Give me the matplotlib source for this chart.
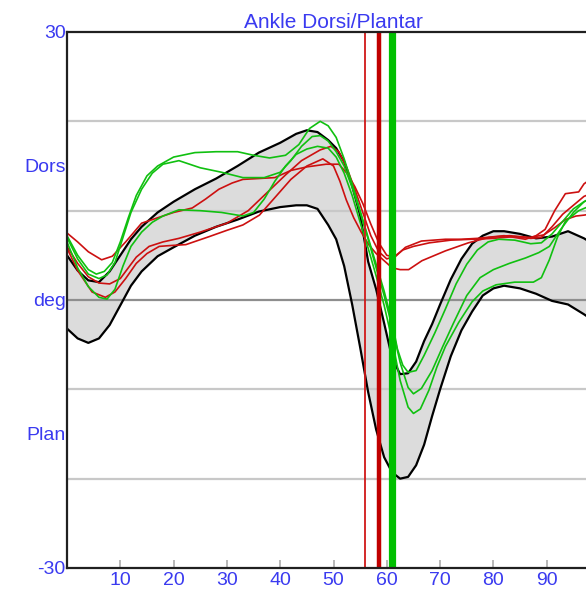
import matplotlib
matplotlib.use("Agg")
import matplotlib.pyplot as plt

# ---------------- data ----------------
band_x = [0, 2, 4, 6, 8, 10, 12, 14, 17, 20, 24, 28, 32, 36, 40, 43, 45, 47, 49, 50.5,
          52, 53.5, 55, 56.5, 58, 59.5, 61, 62.5, 64, 65.5, 67, 68.5, 70, 72, 74, 76,
          78, 80, 82, 85, 88, 91, 94, 97, 100]
band_upper = [5.0, 3.3, 2.2, 2.0, 3.2, 5.0, 6.8, 8.2, 9.8, 11.0, 12.4, 13.6, 15.0, 16.5,
              17.6, 18.6, 19.0, 18.8, 17.9, 17.0, 15.5, 12.8, 9.5, 4.3, 1.2, -2.6, -6.5,
              -8.3, -8.2, -6.9, -4.6, -2.7, -0.5, 2.3, 4.6, 6.3, 7.2, 7.7, 7.7, 7.4, 6.9,
              7.1, 7.7, 6.9, 5.8]
band_lower = [-3.2, -4.3, -4.8, -4.3, -2.8, -0.6, 1.6, 3.2, 4.9, 5.9, 7.2, 8.2, 9.0, 9.9,
              10.4, 10.6, 10.6, 10.2, 8.4, 6.8, 3.8, -0.5, -5.3, -10.3, -14.5, -17.6,
              -19.3, -20.0, -19.8, -18.5, -16.2, -13.0, -10.0, -6.3, -3.4, -1.3, 0.5,
              1.3, 1.6, 1.3, 0.7, -0.1, -0.5, -1.6, -2.8]

green1_x = [0, 2, 4, 5.5, 7, 8.5, 10, 11.5, 13, 15, 17, 20, 24, 28, 32, 35, 38, 41, 43.5,
            45.5, 47.5, 49, 50.5, 52, 53.5, 55, 56.5, 58, 59.5, 61, 62, 63, 64, 65.5, 67,
            69, 71, 73, 75, 77, 79, 81, 84, 87, 89, 91, 93, 95, 97, 100]
green1_y = [7.2, 5.0, 3.4, 2.9, 3.2, 4.2, 6.5, 9.2, 11.7, 13.9, 15.0, 16.0, 16.5, 16.6,
            16.6, 16.2, 15.9, 16.2, 17.4, 19.2, 20.0, 19.5, 18.2, 15.8, 13.0, 10.0, 7.0,
            4.0, 1.0, -2.5, -5.5, -7.3, -8.1, -7.9, -6.2, -3.7, -1.0, 1.8, 4.0, 5.6,
            6.5, 6.8, 6.7, 6.3, 6.4, 7.4, 8.8, 10.2, 11.0, 12.0]

green2_x = [0, 2, 4, 6, 7.5, 9, 10.5, 12, 14, 16, 18, 21, 25, 29, 33, 37, 40, 42, 44,
            46, 47.5, 49, 50.5, 52, 53.5, 55, 56.5, 58, 59.5, 61, 62.5, 64, 65, 66.5,
            68.5, 70.5, 72.5, 75, 77.5, 80, 83, 86, 88.5, 90.5, 92.5, 95, 97, 100]
green2_y = [7.0, 4.6, 2.9, 2.4, 2.8, 4.2, 7.0, 9.8, 12.4, 14.2, 15.2, 15.6, 14.8, 14.3,
            13.7, 13.7, 14.3, 15.6, 17.2, 18.3, 18.4, 17.8, 16.6, 15.0, 12.6, 9.8, 6.8,
            3.6, 0.5, -3.0, -7.0, -9.8, -10.5, -9.9, -7.9, -5.2, -2.6, 0.5, 2.5, 3.4,
            4.1, 4.7, 5.3, 6.0, 7.8, 9.8, 11.0, 11.8]

green3_x = [0, 2, 4, 6, 7.5, 9, 10.5, 12, 14, 16, 18, 21, 25, 29, 33, 35, 37, 39, 41,
            43, 45, 47, 49, 50.5, 52, 53.5, 55, 56.5, 58, 59.5, 61, 62.5, 64, 65, 66.3,
            67.9, 69.4, 71, 73.5, 76, 78, 80.5, 84, 87.5, 89, 90.5, 92, 93.5, 96, 100]
green3_y = [6.5, 3.6, 1.5, 0.3, 0.1, 1.2, 3.8, 6.0, 7.6, 8.7, 9.4, 10.1, 10.0, 9.8, 9.4,
            9.8, 11.3, 13.3, 15.0, 16.3, 16.9, 17.2, 17.0, 16.0, 14.2, 11.7, 8.7, 5.8,
            2.7, -0.6, -4.5, -9.0, -12.0, -12.7, -12.2, -10.1, -7.5, -5.2, -2.5, -0.2,
            1.0, 1.7, 2.0, 2.0, 2.5, 4.5, 7.0, 8.8, 10.0, 11.0]

red1_x = [0, 2, 4, 6.5, 8.5, 11, 14, 17, 20, 23.5, 26, 28.5, 31, 33, 36, 39, 42, 45,
          48.6, 51, 52.5, 54, 55.5, 57, 58.5, 60, 61.5, 63.5, 66.5, 71, 74, 77, 82, 86,
          88, 89.7, 91.5, 93.5, 96, 97, 100]
red1_y = [7.5, 6.5, 5.4, 4.5, 4.9, 6.5, 8.6, 9.2, 9.8, 10.3, 11.3, 12.4, 13.1, 13.5,
          13.6, 13.7, 14.5, 14.9, 15.2, 15.2, 14.2, 12.7, 10.8, 8.5, 6.4, 5.0, 4.8, 5.9,
          6.6, 6.8, 6.8, 6.9, 7.2, 6.8, 7.2, 7.9, 10.0, 11.9, 12.1, 13.0, 14.3]

red2_x = [0, 2, 4, 6, 8, 10, 13, 15.4, 18, 21, 25, 30, 34, 37.5, 41, 44, 47.5, 49.5,
          51, 52.5, 54, 55.5, 57, 58.5, 60, 61.5, 63, 65, 68, 72, 76, 80, 84, 87, 89,
          91, 93, 95, 97, 100]
red2_y = [6.0, 4.1, 2.6, 1.9, 1.8, 2.4, 4.8, 6.0, 6.5, 6.9, 7.6, 8.6, 10.0, 12.0, 14.0,
          15.6, 16.8, 17.2, 16.6, 14.8, 12.4, 9.8, 7.2, 5.4, 4.6, 4.9, 5.6, 6.0, 6.4,
          6.7, 6.8, 6.9, 7.1, 6.9, 7.0, 8.2, 9.6, 10.6, 11.6, 12.3]

red3_x = [0, 2, 4.7, 7.2, 9, 11, 13, 15, 17.3, 19.5, 22.3, 26.7, 30, 33, 36.1, 39.2, 42,
          45, 48, 50, 51.2, 52.4, 53.8, 55.2, 56.6, 58, 59.5, 61, 62.5, 64.1, 66.6, 71,
          75.3, 79.1, 83, 87, 89.5, 91.5, 93.5, 95.5, 97, 100]
red3_y = [5.8, 3.3, 0.9, 0.3, 0.9, 2.4, 4.1, 5.2, 6.0, 6.1, 6.2, 7.1, 7.8, 8.4, 9.5,
          11.6, 13.5, 15.0, 15.8, 15.0, 13.3, 11.2, 9.2, 7.6, 6.2, 5.2, 4.4, 3.6, 3.4,
          3.4, 4.4, 5.5, 6.4, 7.0, 7.2, 7.0, 7.3, 8.1, 9.0, 9.4, 9.5, 9.8]

event_red_thin = 55.9
event_red_thick = 58.5
event_green = 61.0

x_ticks = [10, 20, 30, 40, 50, 60, 70, 80, 90]
y_ticks = [-30, -15, 0, 15, 30]
y_tick_labels = ["-30", "Plan", "deg", "Dors", "30"]
grid_levels = [-20, -10, 10, 20]
title_text = "Ankle Dorsi/Plantar"

# ---------------- figure ----------------
BLUE = "#3a3af0"
plt.rcParams["font.family"] = ["Liberation Sans", "DejaVu Sans"]

fig = plt.figure(figsize=(5.86, 6.0), dpi=100)
ax = fig.add_axes([67 / 586, 32 / 600, 533 / 586, 536 / 600])
ax.set_xlim(0, 100)
ax.set_ylim(-30, 30)

ax.fill_between(band_x, band_lower, band_upper, color="#dcdcdc", lw=0, zorder=1)
for g in grid_levels:
    ax.axhline(g, color="#c8c8c8", lw=1.6, zorder=2)
ax.axhline(0, color="#8e8e8e", lw=1.6, zorder=2)

ax.plot(band_x, band_upper, color="black", lw=1.6, zorder=3)
ax.plot(band_x, band_lower, color="black", lw=1.6, zorder=3)

for xs, ys in [(red1_x, red1_y), (red2_x, red2_y), (red3_x, red3_y)]:
    ax.plot(xs, ys, color="#cc1010", lw=1.2, zorder=4)
for xs, ys in [(green1_x, green1_y), (green2_x, green2_y), (green3_x, green3_y)]:
    ax.plot(xs, ys, color="#10c010", lw=1.2, zorder=5)

ax.axvline(event_red_thin, color="#d01818", lw=1.3, zorder=6)
ax.axvline(event_red_thick, color="#c00000", lw=3.2, zorder=6)
ax.axvline(event_green, color="#00c000", lw=5.2, zorder=6)

for s in ax.spines.values():
    s.set_color("#202020")
    s.set_linewidth(1.6)
    s.set_zorder(7)

ax.set_xticks(x_ticks)
ax.set_xticklabels([str(v) for v in x_ticks])
ax.set_yticks(y_ticks)
ax.set_yticklabels(y_tick_labels)
ax.tick_params(axis="x", direction="in", length=6, width=1.4, color="#b8b8b8",
               labelcolor=BLUE, labelsize=14, pad=3)
ax.tick_params(axis="y", length=0, labelcolor=BLUE, labelsize=14, pad=1)

ax.set_title(title_text, color=BLUE, fontsize=15, pad=2)

fig.savefig("out.png", dpi=100)
